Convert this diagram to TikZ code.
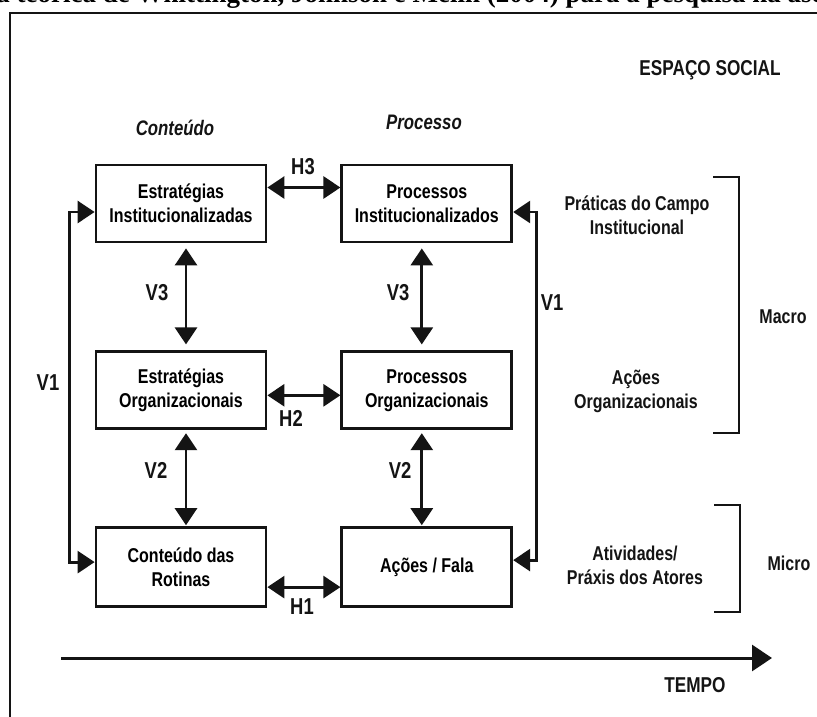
\documentclass[tikz,border=0pt]{standalone}
\usepackage{fontspec}
\usepackage{tikz}
\usetikzlibrary{arrows.meta,positioning}
\newfontfamily\diagfont{Liberation Sans}[FakeStretch=0.8]
\newfontfamily\capfont{Liberation Serif}
\definecolor{ssink}{RGB}{20,20,20}
\tikzset{
  ssbox/.style={
    draw=ssink, line width=2.8pt, align=center, inner sep=2pt,
    minimum width=170pt, minimum height=77pt,
    font=\diagfont\bfseries\fontsize{20}{24}\selectfont
  },
  sstext/.style={align=center, text=ssink, inner sep=0pt,
    font=\diagfont\bfseries\fontsize{20}{24}\selectfont},
  sscaps/.style={sstext, font=\diagfont\bfseries\fontsize{21.5}{24}\selectfont},
  sslab/.style={sstext, font=\diagfont\bfseries\fontsize{23}{24}\selectfont},
  sshead/.style={sstext, font=\diagfont\bfseries\itshape\fontsize{21}{24}\selectfont},
  dbl/.style={{Triangle[length=17pt,width=22pt]}-{Triangle[length=17pt,width=22pt]},
    draw=ssink, line width=2.8pt},
  tarr/.style={-{Triangle[length=20pt,width=26pt]}, draw=ssink, line width=3pt},
  brk/.style={draw=ssink, line width=2.8pt},
  sscap/.style={font=\capfont\bfseries\fontsize{27}{30}\selectfont, inner sep=0pt},
  every picture/.append style={line join=miter}
}
\begin{document}
\begin{tikzpicture}[x=1pt, y=-1pt, node distance=107pt and 73pt]
  \useasboundingbox (0,0) rectangle (817,716);
  \fill[white] (0,0) rectangle (817,716);
  \begin{scope}
    \clip (0,0) rectangle (817,716);
    \node[sscap, anchor=base] (caption) at (410,2) {a teórica de Whittington, Jonhson e Melin (2004) para a pesquisa na ase};
  \end{scope}
  \draw[draw=ssink, line width=2.8pt] (10,730) -- (10,13) -- (830,13);

  \node[ssbox] (ei) at (181,203.5) {Estratégias\\Institucionalizadas};
  \node[ssbox, right=of ei] (pi) {Processos\\Institucionalizados};
  \node[ssbox, below=of ei] (eo) {Estratégias\\Organizacionais};
  \node[ssbox, below=of pi] (po) {Processos\\Organizacionais};
  \node[ssbox, below=96pt of eo, minimum height=79pt] (cr) {Conteúdo das\\Rotinas};
  \node[ssbox, below=96pt of po, minimum height=79pt] (af) {Ações / Fala};

  \node[sshead] (cont) at (175,128) {Conteúdo};
  \node[sshead] (proc) at (424,122) {Processo};
  \node[sscaps] (espaco) at (710,70) {ESPAÇO SOCIAL};

  \draw[dbl] ([yshift=16pt]ei.east) -- ([yshift=16pt]pi.west);
  \draw[dbl] ([yshift=-5pt]eo.east) -- ([yshift=-5pt]po.west);
  \draw[dbl] ([yshift=-20pt]cr.east) -- ([yshift=-20pt]af.west);
  \draw[dbl] ([xshift=5pt,yshift=-5pt]ei.south) -- ([xshift=5pt,yshift=6pt]eo.north);
  \draw[dbl] ([xshift=-5pt,yshift=-5pt]pi.south) -- ([xshift=-5pt,yshift=6pt]po.north);
  \draw[dbl] ([xshift=5pt,yshift=-3pt]eo.south) -- ([xshift=5pt,yshift=1pt]cr.north);
  \draw[dbl] ([xshift=-5pt,yshift=-3pt]po.south) -- ([xshift=-5pt,yshift=1pt]af.north);
  \draw[dbl] ([yshift=-8.5pt]ei.west) -- ++(-25,0) |- ([yshift=5pt]cr.west);
  \draw[dbl] ([yshift=-8.5pt]pi.east) -- ++(23,0) |- ([yshift=7pt]af.east);

  \node[sslab] (h3) at (303,167) {H3};
  \node[sslab] (h2) at (291,418) {H2};
  \node[sslab] (h1) at (302,607) {H1};
  \node[sslab] (v3a) at (157,293) {V3};
  \node[sslab] (v3b) at (398,293) {V3};
  \node[sslab] (v2a) at (156,470) {V2};
  \node[sslab] (v2b) at (400,470) {V2};
  \node[sslab] (v1a) at (48,383) {V1};
  \node[sslab] (v1b) at (552,303) {V1};

  \node[sstext] (pratica) at (637,215) {Práticas do Campo\\Institucional};
  \node[sstext] (acoes) at (636,391) {Ações\\Organizacionais};
  \node[sstext] (ativ) at (635,565) {Atividades/\\Práxis dos Atores};
  \draw[brk] (713,177) -- (739,177) -- (739,433) -- (713,433);
  \draw[brk] (714,505) -- (740,505) -- (740,612) -- (714,612);
  \node[sstext] (macro) at (783,317) {Macro};
  \node[sstext] (micro) at (789,563) {Micro};

  \coordinate (t0) at (61,658);
  \coordinate (t1) at (772,658);
  \draw[tarr] (t0) -- (t1);
  \node[sscaps] (tempo) at (695,685) {TEMPO};
\end{tikzpicture}
\end{document}
